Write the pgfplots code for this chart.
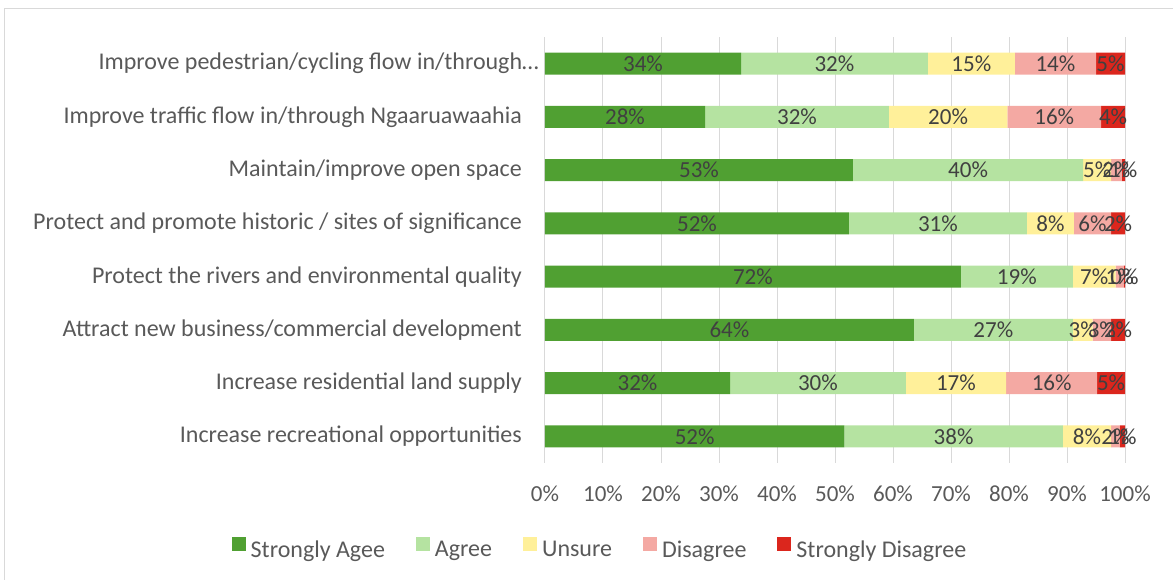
\documentclass[border=0pt]{standalone}
\usepackage{fontspec}
\setmainfont{Carlito}
\usepackage{pgfplots}
\usepackage{pgfplotstable}
\pgfplotsset{compat=1.18}

\definecolor{sagr}{HTML}{50A032}
\definecolor{agr}{HTML}{B5E3A1}
\definecolor{uns}{HTML}{FFF09A}
\definecolor{dis}{HTML}{F4A9A3}
\definecolor{sdis}{HTML}{DB261D}
\definecolor{gridc}{HTML}{D9D9D9}
\definecolor{labc}{HTML}{404040}
\definecolor{tickc}{HTML}{595959}

% rows from bottom (0) to top (7), percent of respondents
\pgfplotstableread{
y sa   a    u    d    sd
0 51.6 37.7 8.3  1.5  0.9
1 31.9 30.3 17.3 15.7 4.8
2 63.6 27.4 3.4  3.2  2.4
3 71.7 19.3 7.4  1.4  0.2
4 52.4 30.7 8.1  6.4  2.4
5 53.1 39.7 4.8  1.8  0.6
6 27.6 31.7 20.4 16.2 4.1
7 33.8 32.2 15.0 14.0 5.0
}\data

\newcommand\fs{\fontsize{23}{27}\selectfont}
\newcommand\fl{\fontsize{24}{28}\selectfont}

\pgfplotsset{frame/.style={
    at={(545pt,117pt)}, anchor=south west,
    scale only axis, width=580pt, height=426pt,
    xmin=0, xmax=100, ymin=-0.5, ymax=7.5}}

\begin{document}
\begin{tikzpicture}[x=1pt,y=1pt]
\useasboundingbox (0,0) rectangle (1173,580);
\draw[gridc, line width=1pt] (4.5,-5) rectangle (1185,571.5);
\begin{axis}[
    frame,
    xbar stacked, bar width=0.41,
    xtick={0,10,...,100}, ytick={0,...,7},
    xmajorgrids, grid style={gridc, line width=1pt},
    axis line style={draw=none},
    major tick length=0pt,
    /pgf/number format/assume math mode=true,
    xticklabel={\pgfmathprintnumber{\tick}\%},
    xticklabel style={font=\fs, text=tickc, anchor=center, inner sep=0pt, yshift=-31pt},
    yticklabel style={font=\fl, text=tickc, anchor=east, inner sep=0pt, xshift=-23pt},
    yticklabels={
        Increase recreational opportunities\hspace{5pt},
        Increase residential land supply,
        Attract new business/commercial development\hspace{5pt},
        Protect the rivers and environmental quality,
        Protect and promote historic / sites of significance\hspace{5pt},
        Maintain/improve open space\hspace{5pt},
        Improve traffic flow in/through Ngaaruawaahia\hspace{5pt},
        Improve pedestrian/cycling flow in/through…\hspace*{-17pt}},
    legend style={at={(0.0931,-0.1995)}, anchor=center, draw=none, fill=none,
        legend columns=5, font=\fl, text=tickc, nodes={inner sep=0pt},
        /tikz/every even column/.append style={column sep=31pt},
        /tikz/every odd column/.append style={column sep=5pt}},
    legend image code/.code={\fill[#1] (0pt,-1pt) rectangle (14pt,13pt);},
]
\addplot[fill=sagr, draw=none] table[x=sa, y=y] {\data};
\addplot[fill=agr, draw=none] table[x=a, y=y] {\data};
\addplot[fill=uns, draw=none] table[x=u, y=y] {\data};
\addplot[fill=dis, draw=none] table[x=d, y=y] {\data};
\addplot[fill=sdis, draw=none] table[x=sd, y=y] {\data};
\legend{Strongly Agee, Agree, Unsure, Disagree, Strongly Disagree}
\end{axis}
% value labels, centred in each segment
\begin{axis}[
    frame, hide axis, clip=false,
    /pgf/number format/assume math mode=true,
    point meta=explicit,
    nodes near coords={\pgfmathprintnumber[fixed,precision=0]{\pgfplotspointmeta}\%},
    every node near coord/.append style={font=\fs, text=labc, anchor=center, inner sep=0pt},
]
\addplot[draw=none] table[x expr=\thisrow{sa}/2, y=y, meta=sa] {\data};
\addplot[draw=none] table[x expr=\thisrow{sa}+\thisrow{a}/2, y=y, meta=a] {\data};
\addplot[draw=none] table[x expr=\thisrow{sa}+\thisrow{a}+\thisrow{u}/2, y=y, meta=u] {\data};
\addplot[draw=none] table[x expr=\thisrow{sa}+\thisrow{a}+\thisrow{u}+\thisrow{d}/2, y=y, meta=d] {\data};
\addplot[draw=none] table[x expr=\thisrow{sa}+\thisrow{a}+\thisrow{u}+\thisrow{d}+\thisrow{sd}/2, y=y, meta=sd] {\data};
\end{axis}
\end{tikzpicture}
\end{document}
